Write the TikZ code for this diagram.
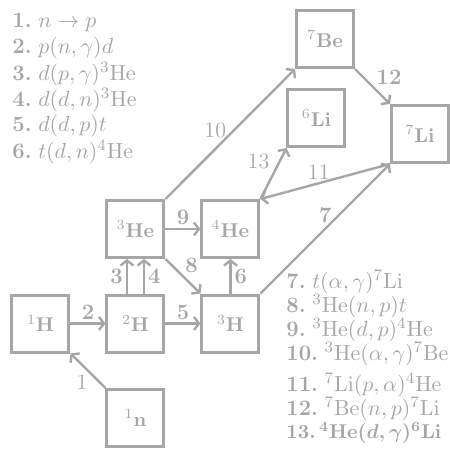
\documentclass[tikz,border=0pt]{standalone}
\usepackage{amsmath,amssymb,bm}
\usetikzlibrary{arrows.meta}
\definecolor{fg}{RGB}{166,166,166}
\newcommand{\rn}[1]{\textbf{#1}\hspace{0.3em}}
\tikzset{
  box/.style={draw=fg, line width=1.5pt, minimum size=28.5pt, inner sep=0pt, text=fg},
  conn/.style={draw=fg, line width=1.2pt, -{Straight Barb[length=2.5pt,width=6.5pt,line width=1.2pt]}},
  lbl/.style={text=fg, inner sep=1.5pt, font=\fontsize{11}{13}\selectfont},
  lst/.style={text=fg, inner sep=0pt, anchor=west, font=\fontsize{11}{13}\selectfont},
}
\begin{document}
\begin{tikzpicture}[x=0.5pt,y=-0.5pt]
\useasboundingbox (0,0) rectangle (450,473);
% nodes
\node[box] (H1)  at (40.5,323.5) {$^{1}$\textbf{H}};
\node[box] (H2)  at (135.5,323.5) {$^{2}$\textbf{H}};
\node[box] (H3)  at (230.5,323.5) {$^{3}$\textbf{H}};
\node[box] (He3) at (135.5,229) {$^{3}$\textbf{He}};
\node[box] (He4) at (230.5,229) {$^{4}$\textbf{He}};
\node[box] (n1)  at (135.5,418) {$^{1}$\textbf{n}};
\node[box] (Be7) at (325,39) {$^{7}$\textbf{Be}};
\node[box] (Li6) at (316.5,118) {$^{6}$\textbf{Li}};
\node[box] (Li7) at (420,134) {$^{7}$\textbf{Li}};
% connectors
\draw[conn] (n1.north west) -- node[lbl, below, xshift=-3pt] {1} (H1.south east);
\draw[conn] (H1) -- node[lbl, above] {\textbf{2}} (H2);
\draw[conn] ([xshift=-4.25pt]H2.north) -- node[lbl, left] {\textbf{3}} ([xshift=-4.25pt]He3.south);
\draw[conn] ([xshift=4.25pt]H2.north) -- node[lbl, right] {\textbf{4}} ([xshift=4.25pt]He3.south);
\draw[conn] (H2) -- node[lbl, above] {\textbf{5}} (H3);
\draw[conn] (H3) -- node[lbl, right] {\textbf{6}} (He4);
\draw[conn] (H3.north east) -- node[lbl, above, pos=0.5, yshift=1pt] {\textbf{7}} (Li7.south west);
\draw[conn] (He3.south east) -- node[lbl, above right, pos=0.45, yshift=-1pt] {\textbf{8}} (H3.north west);
\draw[conn] (He3) -- node[lbl, above] {\textbf{9}} (He4);
\draw[conn] (He3.north east) -- node[lbl, left, pos=0.5, yshift=2pt] {10} (Be7.south west);
\draw[conn] (Li7.south west) -- node[lbl, above, pos=0.55] {11} (He4.north east);
\draw[conn] (Be7.south east) -- node[lbl, above right, pos=0.5, yshift=-1pt] {\textbf{12}} (Li7.north west);
\draw[conn] (He4.north east) -- node[lbl, above left, pos=0.5] {13} (Li6.south west);
% reaction lists
\node[lst] (r1) at (12,22)  {\rn{1.}$n\rightarrow p$};
\node[lst] (r2) at (12,48)  {\rn{2.}$p(n,\gamma)d$};
\node[lst] (r3) at (12,74)  {\rn{3.}$d(p,\gamma)^{3}\mathrm{He}$};
\node[lst] (r4) at (12,100) {\rn{4.}$d(d,n)^{3}\mathrm{He}$};
\node[lst] (r5) at (12,126) {\rn{5.}$d(d,p)t$};
\node[lst] (r6) at (12,152) {\rn{6.}$t(d,n)^{4}\mathrm{He}$};
\node[lst] (r7)  at (286,282) {\rn{7.}$t(\alpha,\gamma)^{7}\mathrm{Li}$};
\node[lst] (r8)  at (286,306) {\rn{8.}$^{3}\mathrm{He}(n,p)t$};
\node[lst] (r9)  at (286,330) {\rn{9.}$^{3}\mathrm{He}(d,p)^{4}\mathrm{He}$};
\node[lst] (r10) at (286,354) {\rn{10.}$^{3}\mathrm{He}(\alpha,\gamma)^{7}\mathrm{Be}$};
\node[lst] (r11) at (286,385) {\rn{11.}$^{7}\mathrm{Li}(p,\alpha)^{4}\mathrm{He}$};
\node[lst] (r12) at (286,409) {\rn{12.}$^{7}\mathrm{Be}(n,p)^{7}\mathrm{Li}$};
\node[lst, font=\fontsize{10}{12}\selectfont] (r13) at (286,433) {\textbf{13.}\,{\boldmath$^{4}\mathbf{He}(d,\gamma)^{6}\mathbf{Li}$}};
\end{tikzpicture}
\end{document}
